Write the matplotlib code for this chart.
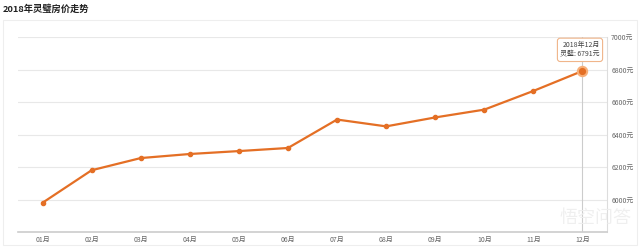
import matplotlib
matplotlib.use("Agg")
import matplotlib.pyplot as plt
from matplotlib.patches import Rectangle

plt.rcParams['font.family'] = ['Noto Sans CJK SC', 'DejaVu Sans']

months = ["01月", "02月", "03月", "04月", "05月", "06月",
          "07月", "08月", "09月", "10月", "11月", "12月"]
prices = [5980, 6180, 6255, 6280, 6298, 6317, 6492, 6450, 6505, 6553, 6668, 6791]
yticks = [6000, 6200, 6400, 6600, 6800, 7000]
title = "2018年灵璧房价走势"
tip_title = "2018年12月"
tip_label = "灵璧: 6791元"

line_color = "#e46f25"

fig = plt.figure(figsize=(6.4, 2.48), dpi=100)
fig.text(3/640, 1 - 9/248, title, fontsize=6.7, fontweight='bold',
         color='#222222', va='center', ha='left')
# outer frame
fig.patches.append(Rectangle((3/640, 1 - 245/248), 634/640, 225/248,
                             transform=fig.transFigure, fill=False,
                             edgecolor='#eeeeee', linewidth=0.8))

ax = fig.add_axes([18/640, 1 - 232/248, 589/640, 195/248])
x = list(range(len(months)))
ax.plot(x, prices, color=line_color, linewidth=1.6, zorder=3)
ax.scatter(x[:-1], prices[:-1], s=9, color=line_color, zorder=4)
ax.scatter([x[-1]], [prices[-1]], s=45, color=line_color, edgecolor='#f7b07a',
           linewidth=1.5, zorder=5)

ax.set_xlim(-0.5, len(months) - 0.5)
ax.set_ylim(5800, 7000)
ax.set_xticks(x)
ax.set_xticklabels(months, fontsize=5, color='#666666')
ax.set_yticks(yticks)
ax.yaxis.tick_right()
ax.set_yticklabels([f"{v}元" for v in yticks], fontsize=5, color='#666666')
ax.tick_params(axis='both', length=0, pad=3)
ax.grid(axis='y', color='#e8e8e8', linewidth=0.8)
ax.set_axisbelow(True)
for s in ['top', 'left']:
    ax.spines[s].set_visible(False)
ax.spines['right'].set_color('#dddddd')
ax.spines['right'].set_linewidth(0.8)
ax.spines['bottom'].set_color('#cccccc')
ax.spines['bottom'].set_linewidth(1.2)

# crosshair at last point
ax.axvline(x[-1], color='#cccccc', linewidth=0.8, zorder=2)

# tooltip
ax.annotate(f"{tip_title}\n{tip_label}", xy=(x[-1], prices[-1]),
            xytext=(x[-1] - 0.05, prices[-1] + 130),
            ha='center', va='center', fontsize=5, color='#444444',
            multialignment='right', linespacing=1.3,
            bbox=dict(boxstyle='round,pad=0.4', fc='white', ec='#f0b58a', lw=0.8),
            zorder=6)

# watermark
fig.text(560/640, 1 - 218/248, "悟空问答", fontsize=13, color='#eeeeee',
         alpha=0.9, ha='left', va='center')

fig.savefig("out.png", dpi=100)
